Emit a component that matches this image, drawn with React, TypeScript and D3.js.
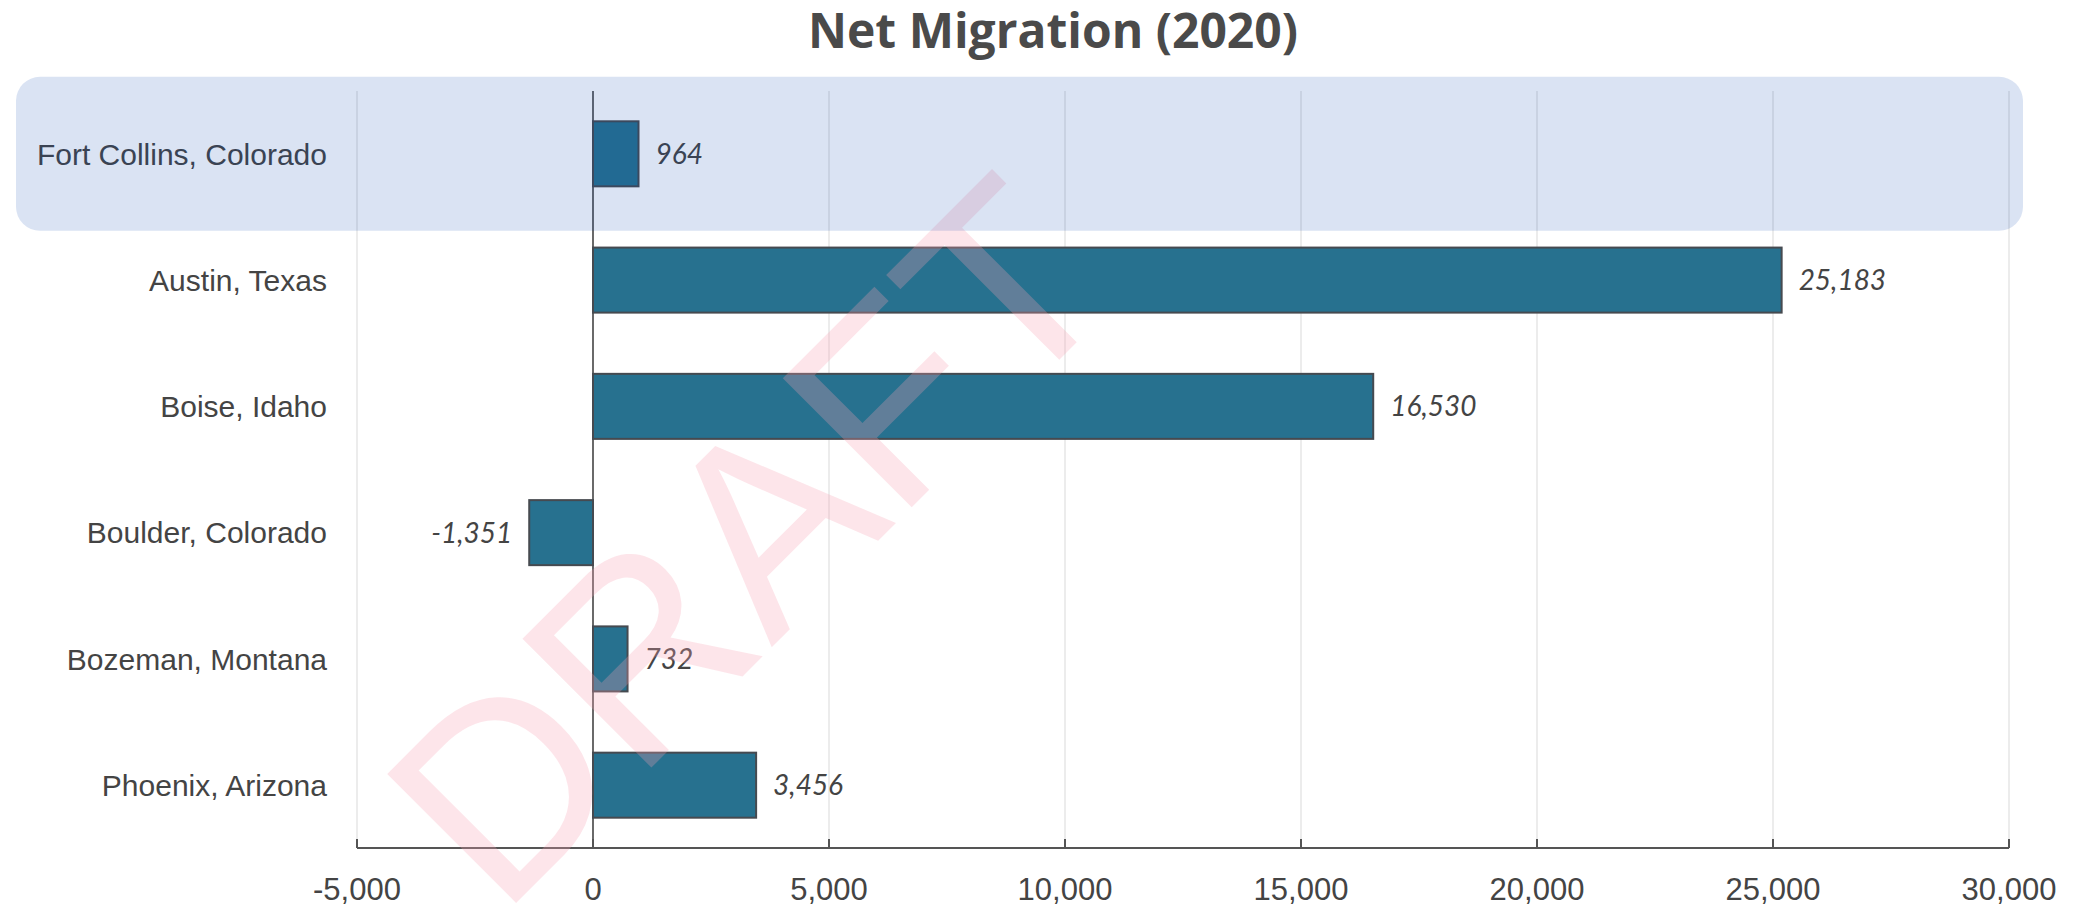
import React from "react";
import * as d3 from "d3";

const categories = [
  "Fort Collins, Colorado",
  "Austin, Texas",
  "Boise, Idaho",
  "Boulder, Colorado",
  "Bozeman, Montana",
  "Phoenix, Arizona",
];
const values = [964, 25183, 16530, -1351, 732, 3456];
const tickValues = [-5000, 0, 5000, 10000, 15000, 20000, 25000, 30000];
const highlighted = "Fort Collins, Colorado";
const title = "Net Migration (2020)";
const watermark = "DRAFT";

const W = 2094;
const H = 907;
const plotLeft = 357;
const plotRight = 2009;
const plotTop = 91;
const plotBottom = 848;

const locale = d3.formatLocale({
  decimal: ".",
  thousands: ",",
  grouping: [3],
  currency: ["$", ""],
  minus: "-",
});

export default function App() {
  const x = d3.scaleLinear().domain([-5000, 30000]).range([plotLeft, plotRight]);
  const y = d3
    .scaleBand<string>()
    .domain(categories)
    .range([plotTop, plotBottom])
    .paddingInner(0.485)
    .paddingOuter(0.24);
  const fmt = locale.format(",");
  const bw = y.bandwidth();
  const hy = (y(highlighted) ?? 0) + bw / 2;

  return (
    <svg
      width={W}
      height={H}
      style={{ position: "absolute", left: 0, top: 0, display: "block", background: "#fff" }}
    >
      <text
        x={1053}
        y={48}
        textAnchor="middle"
        fontFamily="'Open Sans', sans-serif"
        fontWeight={700}
        fontSize={48}
        fill="#4a4a4a"
      >
        {title}
      </text>

      {/* gridlines */}
      {tickValues.map((t) =>
        t === 0 ? null : (
          <line
            key={"g" + t}
            x1={x(t)}
            x2={x(t)}
            y1={plotTop}
            y2={plotBottom}
            stroke="#e6e6e6"
            strokeWidth={1.5}
          />
        )
      )}

      {/* zero line */}
      <line x1={x(0)} x2={x(0)} y1={plotTop} y2={plotBottom} stroke="#444" strokeWidth={1.6} />

      {/* bars */}
      {categories.map((c, i) => {
        const v = values[i];
        const x0 = x(Math.min(0, v));
        const x1 = x(Math.max(0, v));
        return (
          <rect
            key={"b" + c}
            x={x0}
            y={y(c)}
            width={x1 - x0}
            height={bw}
            fill="#27718f"
            stroke="#464a50"
            strokeWidth={2}
          />
        );
      })}

      {/* value labels */}
      {categories.map((c, i) => {
        const v = values[i];
        const neg = v < 0;
        return (
          <text
            key={"v" + c}
            x={neg ? x(v) - 17 : x(v) + 17}
            y={(y(c) ?? 0) + bw / 2}
            dy="0.36em"
            textAnchor={neg ? "end" : "start"}
            fontFamily="Lato, sans-serif"
            fontStyle="italic"
            fontSize={28}
            fill="#444"
          >
            {fmt(v)}
          </text>
        );
      })}

      {/* category labels */}
      {categories.map((c) => (
        <text
          key={"c" + c}
          x={327}
          y={(y(c) ?? 0) + bw / 2}
          dy="0.36em"
          textAnchor="end"
          fontFamily="'Liberation Sans', Arial, sans-serif"
          fontSize={30}
          fill="#444"
        >
          {c}
        </text>
      ))}

      {/* x axis */}
      <line x1={plotLeft} x2={plotRight} y1={plotBottom} y2={plotBottom} stroke="#555" strokeWidth={2} />
      {tickValues.map((t) => (
        <g key={"t" + t}>
          <line x1={x(t)} x2={x(t)} y1={plotBottom} y2={plotBottom - 9} stroke="#555" strokeWidth={2} />
          <text
            x={x(t)}
            y={900}
            textAnchor="middle"
            fontFamily="'Liberation Sans', Arial, sans-serif"
            fontSize={31}
            fill="#444"
          >
            {fmt(t)}
          </text>
        </g>
      ))}

      {/* watermark */}
      <text
        transform="translate(813,606) rotate(-45)"
        x={0}
        y={0}
        textAnchor="middle"
        fontFamily="'Liberation Sans', Arial, sans-serif"
        fontSize={265}
        fill="#f7a1b4"
        fillOpacity={0.28}
      >
        {watermark}
      </text>

      {/* highlight band */}
      <rect
        x={16}
        y={hy - 77}
        width={2023 - 16}
        height={154}
        rx={24}
        ry={24}
        fill="rgb(8,68,175)"
        fillOpacity={0.15}
      />
    </svg>
  );
}
